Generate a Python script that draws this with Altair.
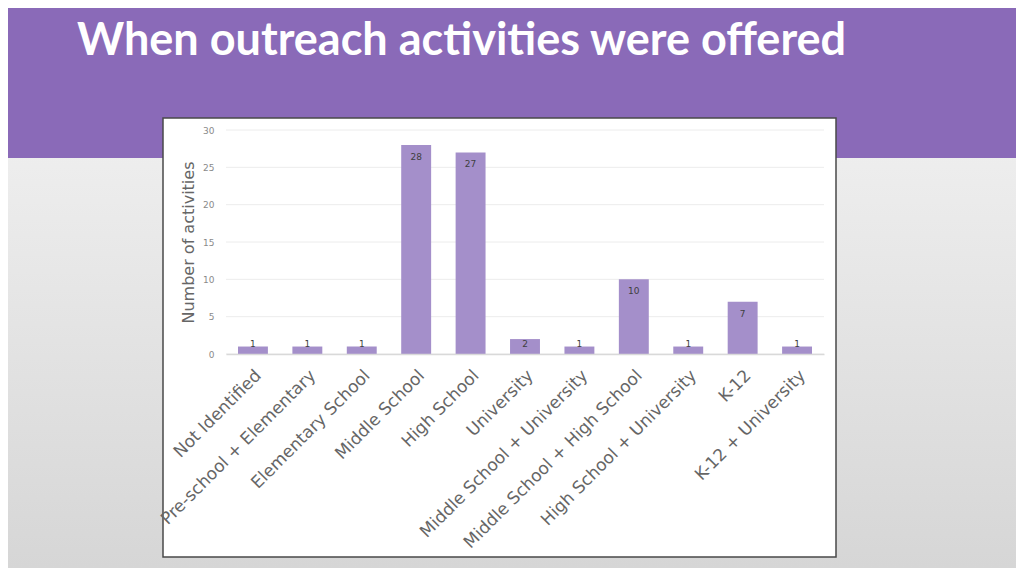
import altair as alt
import pandas as pd

categories = ["Not Identified", "Pre-school + Elementary", "Elementary School",
              "Middle School", "High School", "University",
              "Middle School + University", "Middle School + High School",
              "High School + University", "K-12", "K-12 + University"]
counts = [1, 1, 1, 28, 27, 2, 1, 10, 1, 7, 1]
y_ticks = [0, 5, 10, 15, 20, 25, 30]
title_text = "When outreach activities were offered"
y_title = "Number of activities"

df = pd.DataFrame({"cat": categories, "n": counts})
ticks_df = pd.DataFrame({"t": y_ticks})
one = pd.DataFrame({"k": [0]})

W, H = 598, 224
PL, PT = 218, 122
PR, PB = 1008 - PL - W, 560 - PT - H

FONT = "DejaVu Sans"

bg = alt.Chart(one).mark_rect(
    color=alt.LinearGradient(
        gradient="linear", x1=0, y1=0, x2=0, y2=1,
        stops=[alt.GradientStop(offset=0, color="#f6f6f6"),
               alt.GradientStop(offset=1, color="#d6d6d6")])
).encode(x=alt.value(-PL), x2=alt.value(W + PR), y=alt.value(-PT), y2=alt.value(H + PB))

band = alt.Chart(one).mark_rect(color="#8a6ab8").encode(
    x=alt.value(-PL), x2=alt.value(W + PR), y=alt.value(-PT), y2=alt.value(28))

title = alt.Chart(one).mark_text(
    text=title_text, font="Lato", fontWeight="bold", fontSize=45, color="white",
    align="left", baseline="alphabetic"
).encode(x=alt.value(-149), y=alt.value(-75))

box = alt.Chart(one).mark_rect(fill="white", stroke="#4a4a4a", strokeWidth=1.5).encode(
    x=alt.value(-63), x2=alt.value(610), y=alt.value(-12), y2=alt.value(427))

yscale = alt.Scale(domain=[0, 30], nice=False)
xscale = alt.Scale(paddingInner=0.45, paddingOuter=0.22)

xaxis = alt.Axis(title=None, labelAngle=-45, labelFontSize=17,
                 labelFont=FONT, labelColor="#666666", ticks=False,
                 domainColor="#d9d9d9", domainWidth=1.5, labelPadding=13,
                 labelLimit=400, labelOverlap=False, zindex=1)
yaxis = alt.Axis(title=y_title, values=y_ticks, grid=False, domain=False,
                 ticks=False, labelFontSize=9, labelFont=FONT,
                 labelColor="#8a8a8a", labelPadding=12, labelOverlap=False,
                 titleFont=FONT, titleFontSize=16, titleFontWeight="normal",
                 titleColor="#666666", titlePadding=6, zindex=1)

grid = alt.Chart(ticks_df).mark_rule(color="#ececec", strokeWidth=1).encode(
    y=alt.Y("t:Q", scale=yscale, axis=yaxis), x=alt.value(0), x2=alt.value(W))

bars = alt.Chart(df).mark_bar(color="#a48fca").encode(
    x=alt.X("cat:N", sort=categories, scale=xscale, axis=xaxis),
    y=alt.Y("n:Q", scale=yscale, axis=yaxis))

labels = alt.Chart(df).transform_calculate(
    ly="max(datum.n - 1.6, 1.3)"
).mark_text(fontSize=9, font=FONT, color="#404040", baseline="middle").encode(
    x=alt.X("cat:N", sort=categories, scale=xscale, axis=xaxis),
    y=alt.Y("ly:Q", scale=yscale, axis=yaxis),
    text="n:Q")

chart = alt.layer(bg, band, title, box, grid, bars, labels).properties(
    width=W, height=H,
    autosize=alt.AutoSizeParams(type="none"),
    padding={"left": PL, "top": PT, "right": PR, "bottom": PB},
).configure_view(stroke=None)

chart.save("out.html", embed_options={"renderer": "svg", "actions": False})
